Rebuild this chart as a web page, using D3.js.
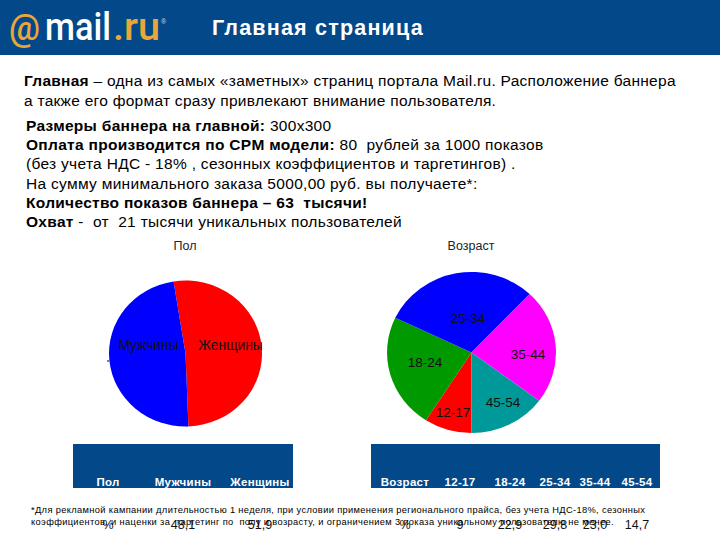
<!DOCTYPE html>
<html>
<head>
<meta charset="utf-8">
<script src="https://cdn.jsdelivr.net/npm/d3@7"></script>
<style>
  html, body { margin: 0; padding: 0; background: #fff; }
  text { font-family: "Liberation Sans", Arial, sans-serif; }
</style>
</head>
<body>
<svg id="slide" width="720" height="540"></svg>
<script>
const genderLabels = ["Женщины", "Мужчины"];
const genderValues = [51.9, 48.1];
const genderColors = ["#ff0000", "#0000ff"];

const ageLabels = ["12-17", "18-24", "25-34", "35-44", "45-54"];
const ageValues = [9, 22.9, 29.8, 23.0, 14.7];
const ageColors = ["#ff0000", "#009900", "#0000ff", "#ff00ff", "#009999"];

const leadLines = [
  [["Главная", true], [" – одна из самых «заметных» страниц портала Mail.ru. Расположение баннера", false]],
  [["а также его формат сразу привлекают внимание пользователя.", false]]
];
const bodyLines = [
  [["Размеры баннера на главной:", true], [" 300х300", false]],
  [["Оплата производится по CPM модели:", true], [" 80  рублей за 1000 показов", false]],
  [["(без учета НДС - 18% , сезонных коэффициентов и таргетингов) .", false]],
  [["На сумму минимального заказа 5000,00 руб. вы получаете*:", false]],
  [["Количество показов баннера – 63  тысячи!", true]],
  [["Охват", true], [" -  от  21 тысячи уникальных пользователей", false]]
];
const footLines = [
  "*Для рекламной кампании длительностью 1 неделя, при условии применения регионального прайса, без учета НДС-18%, сезонных",
  "коэффициентов, и наценки за  таргетинг по  полу и возрасту, и ограничением 3 показа уникальному пользователю не менее."
];

const blue = "#03498a";
const orange = "#e9a63a";
const svg = d3.select("#slide");

// Header
svg.append("rect").attr("width", 720).attr("height", 55).attr("fill", blue);
function logoPart(s, x, w, color, size) {
  svg.append("text").attr("x", x).attr("y", 40).attr("font-size", size)
    .style("font-family", "Roboto").attr("font-weight", 500).attr("fill", color)
    .attr("textLength", w).attr("lengthAdjust", "spacingAndGlyphs").text(s);
}
logoPart("@", 9, 31, orange, 36);
logoPart("mail", 45, 66, "#fff", 38);
logoPart(".ru", 113, 47, orange, 38);
svg.append("text").attr("x", 161).attr("y", 24).attr("font-size", 7).attr("fill", "#ddd").text("®");
svg.append("text").attr("x", 212).attr("y", 35).attr("fill", "#fff").attr("font-weight", "bold")
  .attr("font-size", 21.5).attr("letter-spacing", 1.2).text("Главная страница");

function richLines(lines, x, y0, step, size, spacing) {
  lines.forEach((parts, i) => {
    let t = svg.append("text").attr("x", x).attr("y", y0 + i * step)
      .attr("font-size", size).attr("letter-spacing", spacing)
      .attr("xml:space", "preserve").attr("fill", "#000");
    parts.forEach(([s, b]) => {
      t.append("tspan").attr("font-weight", b ? "bold" : "normal").text(s);
    });
  });
}
richLines(leadLines, 24, 86, 20, 15.5, 0.27);
richLines(bodyLines, 26, 131, 19.2, 15.5, 0.3);

// Pies
function drawPie(labels, values, colors, cx, cy, rx, ry, start, title, titleX, labelSize, labelPos) {
  const pie = d3.pie().sort(null).startAngle(start).endAngle(start + 2 * Math.PI);
  const arc = d3.arc().innerRadius(0).outerRadius(1);
  const g = svg.append("g").attr("transform", `translate(${cx},${cy}) scale(${rx},${ry})`);
  g.selectAll("path").data(pie(values)).join("path")
    .attr("d", arc)
    .attr("fill", (d, i) => colors[i]);
  svg.append("text").attr("x", titleX).attr("y", 250).attr("text-anchor", "middle")
    .attr("font-size", 12.5).attr("fill", "#222").text(title);
  labels.forEach((l, i) => {
    svg.append("text").attr("x", labelPos[i][0]).attr("y", labelPos[i][1])
      .attr("text-anchor", "middle").attr("font-size", labelSize).attr("fill", "#111").text(l);
  });
}
const rad = d => d * Math.PI / 180;
drawPie(genderLabels, genderValues, genderColors, 185.5, 353.5, 76.5, 73, rad(-9), "Пол", 185, 13.8,
  [[230.5, 350], [148.5, 350]]);
drawPie(ageLabels, ageValues, ageColors, 471.5, 352.5, 84.5, 80.5, rad(180), "Возраст", 471, 13.5,
  [[453, 417], [425, 367], [468, 323], [528, 359], [503, 407]]);
// stray tick left of the gender pie
svg.append("rect").attr("x", 107).attr("y", 360.5).attr("width", 2).attr("height", 1).attr("fill", "#003");

// Tables
function drawTable(x, w, head, vals, colX) {
  svg.append("rect").attr("x", x).attr("y", 444).attr("width", w).attr("height", 44).attr("fill", blue);
  head.forEach((h, i) => {
    svg.append("text").attr("x", colX[i]).attr("y", 486).attr("text-anchor", "middle")
      .attr("fill", "#fff").attr("font-size", 11.5).attr("font-weight", "bold")
      .attr("letter-spacing", 0.3).text(h);
  });
  vals.forEach((v, i) => {
    svg.append("text").attr("x", colX[i]).attr("y", 529).attr("text-anchor", "middle")
      .attr("font-size", 12.5).attr("fill", "#111").text(v);
  });
}
const commaFmt = v => Number.isInteger(v) && v < 10 ? String(v) : v.toFixed(1).replace(".", ",");
drawTable(73, 220, ["Пол"].concat(genderLabels.slice().reverse()),
  ["%"].concat(genderValues.slice().reverse().map(commaFmt)), [108, 183, 260]);
drawTable(371, 289, ["Возраст"].concat(ageLabels),
  ["%"].concat(ageValues.map(commaFmt)), [405, 460, 510, 555, 595, 637]);

// Footnote
footLines.forEach((s, i) => {
  svg.append("text").attr("x", 31).attr("y", 513 + i * 12).attr("font-size", 9.3)
    .attr("letter-spacing", 0.35).attr("xml:space", "preserve").attr("fill", "#000").text(s);
});
</script>
</body>
</html>
